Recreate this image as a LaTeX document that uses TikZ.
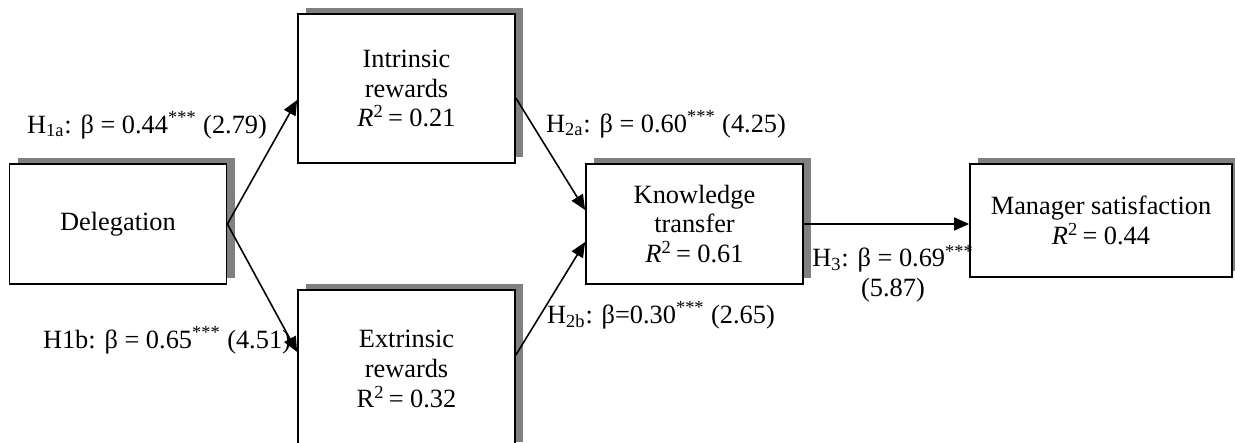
\documentclass[tikz,border=0pt]{standalone}
\usepackage{fontspec}
\setmainfont{Liberation Serif}
\usetikzlibrary{arrows.meta,shadows}
\definecolor{shadowGray}{RGB}{128,128,128}

\begin{document}
\begin{tikzpicture}[
    font=\fontsize{15}{17}\selectfont,
    varbox/.style={draw, line width=1pt, fill=white, minimum width=4.34cm, minimum height=2.4cm, align=center,
        drop shadow={shadow xshift=0.16cm, shadow yshift=0.12cm, fill=shadowGray, opacity=1}},
    arr/.style={-{Triangle[length=0.3cm, width=0.26cm]}, line width=0.9pt},
    hyp/.style={inner sep=0pt, anchor=base},
]
\clip (0,0) rectangle (24.7,-8.86);

\node[varbox] (deleg) at (2.36,-4.48) {Delegation};
\node[varbox, minimum height=2.98cm] (intr) at (8.13,-1.77) {Intrinsic\\rewards\\\textit{R}\textsuperscript{2}\,= 0.21};
\node[varbox, minimum height=3.16cm] (extr) at (8.13,-7.38) {Extrinsic\\rewards\\R\textsuperscript{2}\,= 0.32};
\node[varbox] (know) at (13.89,-4.48) {Knowledge\\transfer\\\textit{R}\textsuperscript{2}\,= 0.61};
\node[varbox, minimum width=5.24cm, minimum height=2.26cm] (mgr) at (22.02,-4.41) {Manager satisfaction\\\textit{R}\textsuperscript{2}\,= 0.44};

\draw[arr] (deleg.east) -- ([yshift=-0.23cm]intr.west);
\draw[arr] (deleg.east) -- ([yshift=0.34cm]extr.west);
\draw[arr] ([yshift=-0.19cm]intr.east) -- ([yshift=0.28cm]know.west);
\draw[arr] ([yshift=0.28cm]extr.east) -- ([yshift=-0.36cm]know.west);
\draw[arr] (know.east) -- (know.east -| mgr.west);

\node[hyp] (h1a) at (2.94,-2.66) {H\textsubscript{1a}: β = 0.44\textsuperscript{***} (2.79)};
\node[hyp] (h1b) at (3.34,-6.96) {H1b: β = 0.65\textsuperscript{***} (4.51)};
\node[hyp] (h2a) at (13.32,-2.64) {H\textsubscript{2a}: β = 0.60\textsuperscript{***} (4.25)};
\node[hyp] (h2b) at (13.22,-6.46) {H\textsubscript{2b}: β=0.30\textsuperscript{***} (2.65)};
\node[inner sep=0pt, align=center] (h3) at (17.86,-5.48) {H\textsubscript{3}: β = 0.69\textsuperscript{***}\\(5.87)};
\end{tikzpicture}
\end{document}
